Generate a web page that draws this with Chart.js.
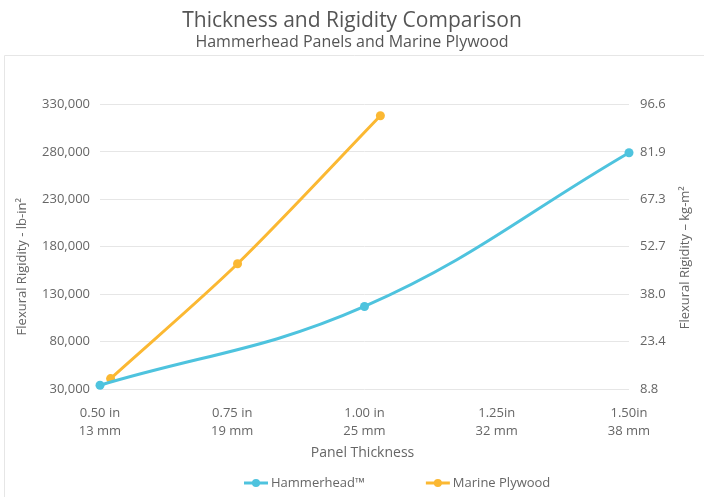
<!DOCTYPE html>
<html>
<head>
<meta charset="utf-8">
<script src="https://cdn.jsdelivr.net/npm/chart.js@4"></script>
<style>
  html, body { margin: 0; padding: 0; background: #fff; }
  #wrap { width: 704px; height: 497px; position: relative; }
</style>
</head>
<body>
<div id="wrap"><canvas id="c" width="704" height="497"></canvas></div>
<script>
// ---- data ----
const seriesNames = ['Hammerhead\u2122', 'Marine Plywood'];
const hammerheadThickness = [0.50, 1.00, 1.50];
const hammerheadRigidity = [34000, 117000, 279000];
const plywoodThickness = [0.52, 0.76, 1.03];
const plywoodRigidity = [41000, 162000, 318000];
const xTickInches = ['0.50 in', '0.75 in', '1.00 in', '1.25in', '1.50in'];
const xTickMm = ['13 mm', '19 mm', '25 mm', '32 mm', '38 mm'];
const leftTickLabels = ['30,000', '80,000', '130,000', '180,000', '230,000', '280,000', '330,000'];
const rightTickLabels = ['8.8', '23.4', '38.0', '52.7', '67.3', '81.9', '96.6'];
const titleText = 'Thickness and Rigidity Comparison';
const subtitleText = 'Hammerhead Panels and Marine Plywood';
const xTitle = 'Panel Thickness';
const leftTitle = 'Flexural Rigidity - lb-in\u00b2';
const rightTitle = 'Flexural Rigidity \u2013 kg-m\u00b2';

const FONT = "'Open Sans', sans-serif";
const BLUE = '#4ec3de';
const ORANGE = '#fbb832';
const TEXT = '#666666';

const toPoints = (xs, ys) => xs.map((x, i) => ({ x: x, y: ys[i] }));

const decor = {
  id: 'decor',
  beforeDraw(chart) {
    const ctx = chart.ctx;
    ctx.save();
    ctx.strokeStyle = '#e6e6e6';
    ctx.lineWidth = 1;
    ctx.beginPath();
    ctx.moveTo(4.5, chart.height);
    ctx.lineTo(4.5, 55.5);
    ctx.lineTo(chart.width, 55.5);
    ctx.stroke();
    ctx.restore();
  },
  afterDraw(chart) {
    const ctx = chart.ctx;
    const a = chart.chartArea;
    ctx.save();
    ctx.fillStyle = TEXT;
    ctx.textAlign = 'center';
    ctx.textBaseline = 'middle';
    ctx.font = '13px ' + FONT;
    // left axis title
    ctx.save();
    ctx.translate(22, (a.top + a.bottom) / 2 + 20);
    ctx.rotate(-Math.PI / 2);
    ctx.fillText(leftTitle, 0, 0);
    ctx.restore();
    // right axis title
    ctx.save();
    ctx.translate(685, (a.top + a.bottom) / 2 + 11);
    ctx.rotate(-Math.PI / 2);
    ctx.fillText(rightTitle, 0, 0);
    ctx.restore();
    // x axis title
    ctx.font = '14px ' + FONT;
    ctx.fillText(xTitle, (a.left + a.right) / 2 - 2, a.bottom + 64);
    // legend
    ctx.font = '13px ' + FONT;
    ctx.textAlign = 'left';
    let x = a.left + 144;
    const y = a.bottom + 94;
    chart.data.datasets.forEach((ds, i) => {
      ctx.strokeStyle = ds.borderColor;
      ctx.lineWidth = 3;
      ctx.beginPath();
      ctx.moveTo(x, y);
      ctx.lineTo(x + 24, y);
      ctx.stroke();
      ctx.fillStyle = ds.borderColor;
      ctx.beginPath();
      ctx.arc(x + 12, y, 4, 0, Math.PI * 2);
      ctx.fill();
      ctx.fillStyle = TEXT;
      ctx.fillText(ds.label, x + 27, y);
      x += 27 + ctx.measureText(ds.label).width + 61;
    });
    ctx.restore();
  }
};

new Chart(document.getElementById('c'), {
  type: 'line',
  data: {
    datasets: [
      {
        label: seriesNames[0],
        data: toPoints(hammerheadThickness, hammerheadRigidity),
        borderColor: BLUE, backgroundColor: BLUE,
        borderWidth: 3, pointRadius: 4.5, pointHoverRadius: 4.5, pointBorderWidth: 0,
        tension: 0.4, yAxisID: 'y', clip: false
      },
      {
        label: seriesNames[1],
        data: toPoints(plywoodThickness, plywoodRigidity),
        borderColor: ORANGE, backgroundColor: ORANGE,
        borderWidth: 3, pointRadius: 4.5, pointHoverRadius: 4.5, pointBorderWidth: 0,
        tension: 0.3, yAxisID: 'y', clip: false
      }
    ]
  },
  options: {
    responsive: false,
    animation: false,
    layout: { padding: { left: 0, right: 0, top: 0, bottom: 0 } },
    plugins: {
      legend: { display: false },
      tooltip: { enabled: false },
      title: {
        display: true, text: titleText, color: '#555555',
        font: { family: FONT, size: 21, weight: 'normal', lineHeight: 1.2 },
        padding: { top: 8, bottom: 0 }
      },
      subtitle: {
        display: true, text: subtitleText, color: '#555555',
        font: { family: FONT, size: 16, weight: 'normal', lineHeight: 1.2 },
        padding: { top: 0, bottom: 52 }
      }
    },
    scales: {
      x: {
        type: 'linear', min: 0.5, max: 1.5,
        grid: { display: false }, border: { display: false },
        ticks: {
          stepSize: 0.25, color: TEXT, padding: 7, maxRotation: 0, autoSkip: false,
          font: { family: FONT, size: 13, lineHeight: 1.385 },
          callback: (v, i) => [xTickInches[i], xTickMm[i]]
        },
        afterFit: (s) => { s.height = 108; }
      },
      y: {
        type: 'linear', position: 'left', min: 30000, max: 330000,
        grid: { color: '#e6e6e6', drawTicks: false }, border: { display: false },
        ticks: {
          stepSize: 50000, color: TEXT, padding: 10,
          font: { family: FONT, size: 13 },
          callback: (v, i) => leftTickLabels[i]
        },
        afterFit: (s) => { s.width = 100; }
      },
      y2: {
        type: 'linear', position: 'right', min: 30000, max: 330000,
        grid: { display: false, drawTicks: false }, border: { display: false },
        ticks: {
          stepSize: 50000, color: TEXT, padding: 11,
          font: { family: FONT, size: 13 },
          callback: (v, i) => rightTickLabels[i]
        },
        afterFit: (s) => { s.width = 75; }
      }
    }
  },
  plugins: [decor]
});
</script>
</body>
</html>
